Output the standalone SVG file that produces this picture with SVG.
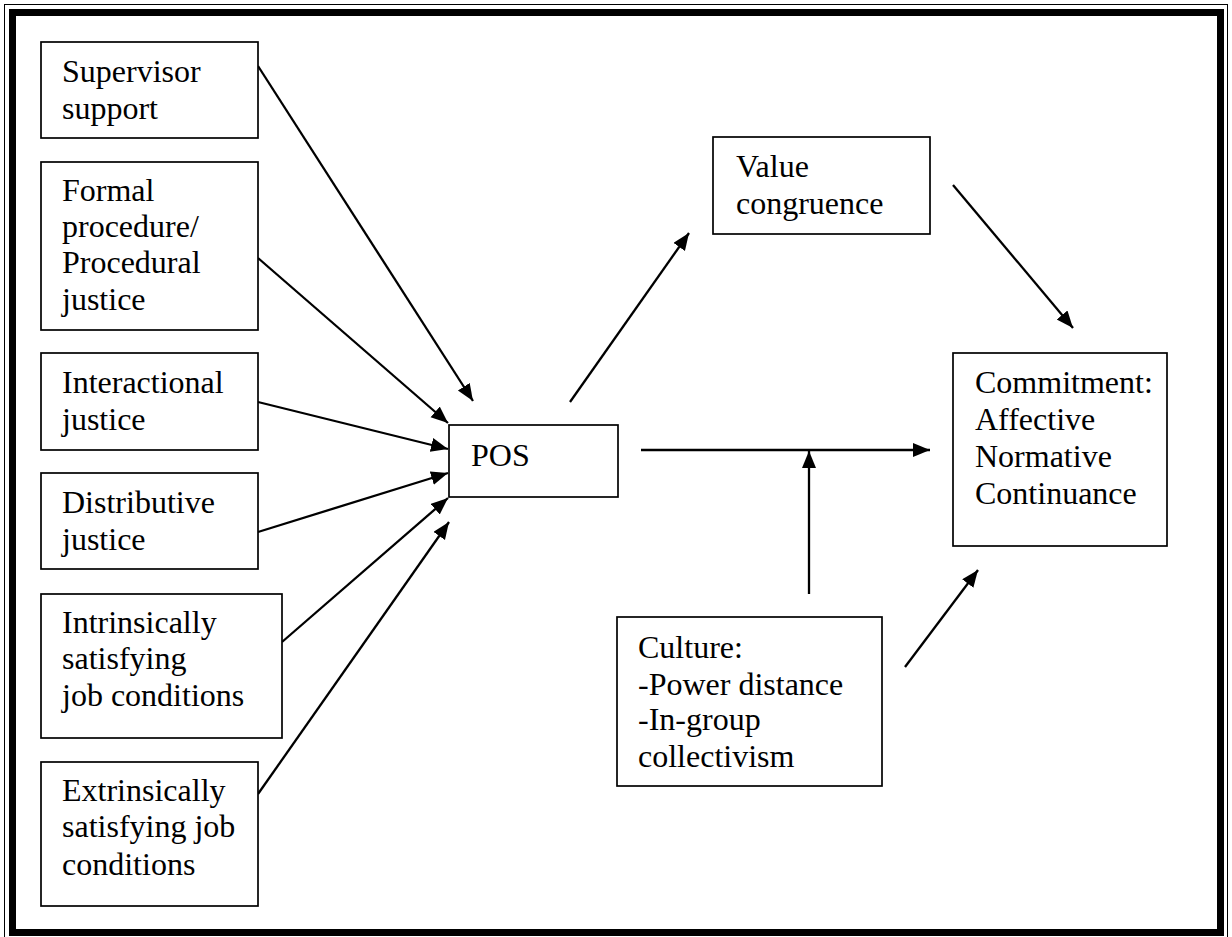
<svg xmlns="http://www.w3.org/2000/svg" width="1232" height="937" viewBox="0 0 1232 937">
  <style>
    .box { fill: #fff; stroke: #000; stroke-width: 1.7; }
    .lbl { font-family: "Liberation Serif", "Times New Roman", serif; font-size: 32px; fill: #000; }
    .link { stroke: #000; stroke-width: 2.3; fill: none; marker-end: url(#head); }
  </style>
  <defs>
    <marker id="head" markerUnits="userSpaceOnUse" markerWidth="20" markerHeight="16" refX="17" refY="7" orient="auto">
      <path d="M0,0 L17,7 L0,14 z" fill="#000"/>
    </marker>
  </defs>

  <rect width="1232" height="937" fill="#fff"/>

  <!-- page frame: thin outer rule + thick inner rule -->
  <g id="frame" fill="none" stroke="#000">
    <rect x="4.5" y="4.5" width="1223" height="936" stroke-width="1"/>
    <rect x="12.5" y="12.5" width="1208" height="920" stroke-width="7"/>
  </g>

  <g id="connectors">
    <line class="link" x1="258" y1="66" x2="473" y2="401"/>
    <line class="link" x1="258" y1="258" x2="448" y2="423"/>
    <line class="link" x1="258" y1="402" x2="448" y2="449"/>
    <line class="link" x1="258" y1="532" x2="448" y2="473"/>
    <line class="link" x1="282" y1="642" x2="448" y2="498"/>
    <line class="link" x1="258" y1="794" x2="449" y2="522"/>
    <line class="link" x1="570" y1="402" x2="689" y2="233"/>
    <line class="link" x1="641" y1="450" x2="930" y2="450"/>
    <line class="link" x1="953" y1="185" x2="1073" y2="328"/>
    <line class="link" x1="809" y1="594" x2="809" y2="451"/>
    <line class="link" x1="905" y1="667" x2="978" y2="570"/>
  </g>

  <g id="supervisor-support">
    <rect class="box" x="41" y="42" width="217" height="96"/>
    <text class="lbl" x="62" y="82">Supervisor</text>
    <text class="lbl" x="62" y="119">support</text>
  </g>

  <g id="procedural-justice">
    <rect class="box" x="41" y="162" width="217" height="168"/>
    <text class="lbl" x="62" y="201">Formal</text>
    <text class="lbl" x="62" y="237">procedure/</text>
    <text class="lbl" x="62" y="273">Procedural</text>
    <text class="lbl" x="62" y="310">justice</text>
  </g>

  <g id="interactional-justice">
    <rect class="box" x="41" y="353" width="217" height="97"/>
    <text class="lbl" x="62" y="393">Interactional</text>
    <text class="lbl" x="62" y="430">justice</text>
  </g>

  <g id="distributive-justice">
    <rect class="box" x="41" y="473" width="217" height="96"/>
    <text class="lbl" x="62" y="513">Distributive</text>
    <text class="lbl" x="62" y="550">justice</text>
  </g>

  <g id="intrinsic-conditions">
    <rect class="box" x="41" y="594" width="241" height="144"/>
    <text class="lbl" x="62" y="633">Intrinsically</text>
    <text class="lbl" x="62" y="669">satisfying</text>
    <text class="lbl" x="62" y="706">job conditions</text>
  </g>

  <g id="extrinsic-conditions">
    <rect class="box" x="41" y="762" width="217" height="144"/>
    <text class="lbl" x="62" y="801">Extrinsically</text>
    <text class="lbl" x="62" y="837">satisfying job</text>
    <text class="lbl" x="62" y="875">conditions</text>
  </g>

  <g id="pos">
    <rect class="box" x="449" y="425" width="169" height="72"/>
    <text class="lbl" x="471" y="466">POS</text>
  </g>

  <g id="value-congruence">
    <rect class="box" x="713" y="137" width="217" height="97"/>
    <text class="lbl" x="736" y="177">Value</text>
    <text class="lbl" x="736" y="214">congruence</text>
  </g>

  <g id="commitment">
    <rect class="box" x="953" y="353" width="214" height="193"/>
    <text class="lbl" x="975" y="393">Commitment:</text>
    <text class="lbl" x="975" y="430">Affective</text>
    <text class="lbl" x="975" y="467">Normative</text>
    <text class="lbl" x="975" y="504">Continuance</text>
  </g>

  <g id="culture">
    <rect class="box" x="617" y="617" width="265" height="169"/>
    <text class="lbl" x="638" y="658">Culture:</text>
    <text class="lbl" x="638" y="695">-Power distance</text>
    <text class="lbl" x="638" y="730">-In-group</text>
    <text class="lbl" x="638" y="767">collectivism</text>
  </g>
</svg>
